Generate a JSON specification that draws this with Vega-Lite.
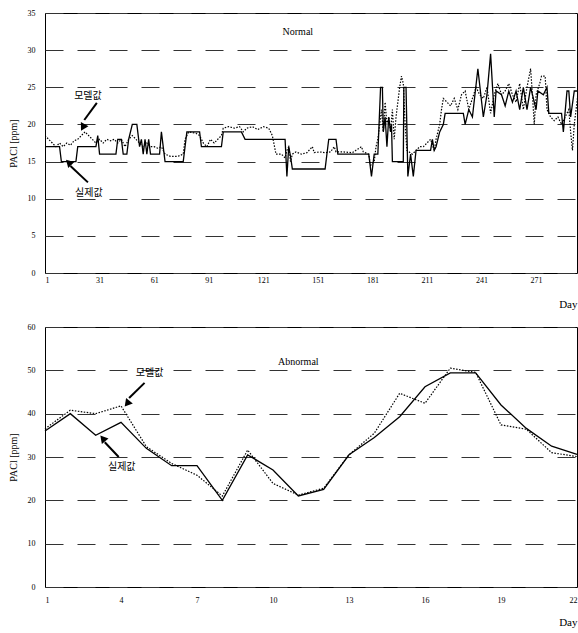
{
  "$schema": "https://vega.github.io/schema/vega-lite/v6.json",
  "background": "white",
  "padding": {"left": 7, "top": 8, "right": 0, "bottom": 0},
  "bounds": "flush",
  "spacing": 54,
  "config": {
    "font": "Liberation Serif",
    "view": {"stroke": "black", "strokeWidth": 1},
    "axis": {"labelFont": "Liberation Serif", "titleFont": "Liberation Serif", "labelColor": "black", "titleColor": "black", "labelFontSize": 8, "titleFontSize": 10, "titleFontWeight": "normal", "ticks": false, "tickSize": 0, "domain": false, "grid": false, "labelOverlap": false},
    "axisY": {"grid": true, "gridColor": "#333", "gridDash": [18, 14], "gridWidth": 1, "labelPadding": 10, "titlePadding": 9}
  },
  "datasets": {
    "normal": [
      {"s":"actual","day":1,"ppm":17},{"s":"actual","day":9,"ppm":17},{"s":"actual","day":10,"ppm":15},{"s":"actual","day":18,"ppm":15},{"s":"actual","day":19,"ppm":17},{"s":"actual","day":29,"ppm":17},{"s":"actual","day":30,"ppm":18.5},{"s":"actual","day":31,"ppm":16},{"s":"actual","day":40,"ppm":16},{"s":"actual","day":41,"ppm":18},{"s":"actual","day":43,"ppm":18},{"s":"actual","day":44,"ppm":16},{"s":"actual","day":46,"ppm":16},{"s":"actual","day":47,"ppm":18},{"s":"actual","day":49,"ppm":20},{"s":"actual","day":51.5,"ppm":20},{"s":"actual","day":53,"ppm":17},{"s":"actual","day":54,"ppm":18},{"s":"actual","day":55,"ppm":16},{"s":"actual","day":56,"ppm":18},{"s":"actual","day":57,"ppm":16},{"s":"actual","day":58,"ppm":18},{"s":"actual","day":59,"ppm":16},{"s":"actual","day":64,"ppm":16},{"s":"actual","day":65,"ppm":19},{"s":"actual","day":67,"ppm":15},{"s":"actual","day":77,"ppm":15},{"s":"actual","day":78,"ppm":17},{"s":"actual","day":79,"ppm":19},{"s":"actual","day":86,"ppm":19},{"s":"actual","day":87,"ppm":17},{"s":"actual","day":98,"ppm":17},{"s":"actual","day":99,"ppm":19},{"s":"actual","day":109,"ppm":19},{"s":"actual","day":111,"ppm":18},{"s":"actual","day":133,"ppm":18},{"s":"actual","day":134,"ppm":13},{"s":"actual","day":135,"ppm":17},{"s":"actual","day":136,"ppm":15.7},{"s":"actual","day":137,"ppm":14},{"s":"actual","day":155,"ppm":14},{"s":"actual","day":157,"ppm":18},{"s":"actual","day":161,"ppm":18},{"s":"actual","day":162,"ppm":16},{"s":"actual","day":179,"ppm":16},{"s":"actual","day":180.5,"ppm":13},{"s":"actual","day":182,"ppm":16},{"s":"actual","day":184,"ppm":16},{"s":"actual","day":185.5,"ppm":25},{"s":"actual","day":186.5,"ppm":25},{"s":"actual","day":187,"ppm":19},{"s":"actual","day":188,"ppm":21},{"s":"actual","day":189,"ppm":17},{"s":"actual","day":190,"ppm":21},{"s":"actual","day":191,"ppm":19},{"s":"actual","day":191.5,"ppm":20},{"s":"actual","day":192,"ppm":15},{"s":"actual","day":198,"ppm":15},{"s":"actual","day":198.3,"ppm":25},{"s":"actual","day":199.5,"ppm":25},{"s":"actual","day":200.5,"ppm":13},{"s":"actual","day":202,"ppm":16},{"s":"actual","day":203.5,"ppm":13},{"s":"actual","day":205,"ppm":16.5},{"s":"actual","day":213,"ppm":16.5},{"s":"actual","day":214,"ppm":18},{"s":"actual","day":215,"ppm":16.5},{"s":"actual","day":216,"ppm":17},{"s":"actual","day":218,"ppm":19},{"s":"actual","day":220,"ppm":20},{"s":"actual","day":221,"ppm":21.5},{"s":"actual","day":231,"ppm":21.5},{"s":"actual","day":232,"ppm":20},{"s":"actual","day":234,"ppm":22},{"s":"actual","day":236,"ppm":21},{"s":"actual","day":239,"ppm":27.5},{"s":"actual","day":242,"ppm":21},{"s":"actual","day":244,"ppm":24},{"s":"actual","day":246,"ppm":29.5},{"s":"actual","day":248,"ppm":21},{"s":"actual","day":249,"ppm":24.5},{"s":"actual","day":252,"ppm":24},{"s":"actual","day":254,"ppm":22.5},{"s":"actual","day":256,"ppm":24.5},{"s":"actual","day":258,"ppm":23},{"s":"actual","day":260,"ppm":24.5},{"s":"actual","day":262,"ppm":22},{"s":"actual","day":264,"ppm":25},{"s":"actual","day":266,"ppm":22},{"s":"actual","day":268,"ppm":25},{"s":"actual","day":269,"ppm":24},{"s":"actual","day":271,"ppm":22},{"s":"actual","day":272,"ppm":24.5},{"s":"actual","day":275,"ppm":24},{"s":"actual","day":277,"ppm":25},{"s":"actual","day":278,"ppm":21.5},{"s":"actual","day":285,"ppm":21.5},{"s":"actual","day":286,"ppm":19},{"s":"actual","day":288,"ppm":24.5},{"s":"actual","day":289,"ppm":24.5},{"s":"actual","day":290,"ppm":21},{"s":"actual","day":292,"ppm":24.5},{"s":"actual","day":295,"ppm":24.5},
      {"s":"model","day":1,"ppm":18.5},{"s":"model","day":3,"ppm":18},{"s":"model","day":5,"ppm":17.5},{"s":"model","day":7,"ppm":17},{"s":"model","day":9,"ppm":17.5},{"s":"model","day":11,"ppm":17},{"s":"model","day":13,"ppm":17.5},{"s":"model","day":15,"ppm":17.2},{"s":"model","day":17,"ppm":17.8},{"s":"model","day":19,"ppm":18},{"s":"model","day":21,"ppm":18.5},{"s":"model","day":23,"ppm":19},{"s":"model","day":25,"ppm":18.5},{"s":"model","day":27,"ppm":18},{"s":"model","day":29,"ppm":17.5},{"s":"model","day":31,"ppm":18},{"s":"model","day":33,"ppm":17.5},{"s":"model","day":35,"ppm":18},{"s":"model","day":37,"ppm":17.8},{"s":"model","day":39,"ppm":18},{"s":"model","day":41,"ppm":17.5},{"s":"model","day":43,"ppm":18},{"s":"model","day":45,"ppm":17},{"s":"model","day":47,"ppm":18},{"s":"model","day":49,"ppm":18.5},{"s":"model","day":51,"ppm":18},{"s":"model","day":53,"ppm":17.5},{"s":"model","day":55,"ppm":17},{"s":"model","day":57,"ppm":17.5},{"s":"model","day":59,"ppm":17},{"s":"model","day":61,"ppm":17},{"s":"model","day":63,"ppm":16.8},{"s":"model","day":65,"ppm":17},{"s":"model","day":67,"ppm":16},{"s":"model","day":70,"ppm":15.7},{"s":"model","day":74,"ppm":15.7},{"s":"model","day":77,"ppm":16},{"s":"model","day":78,"ppm":18},{"s":"model","day":80,"ppm":19},{"s":"model","day":84,"ppm":18.8},{"s":"model","day":86,"ppm":18.5},{"s":"model","day":88,"ppm":17.5},{"s":"model","day":90,"ppm":17},{"s":"model","day":92,"ppm":18},{"s":"model","day":94,"ppm":17.5},{"s":"model","day":96,"ppm":18},{"s":"model","day":98,"ppm":18.5},{"s":"model","day":99,"ppm":19.5},{"s":"model","day":102,"ppm":19.7},{"s":"model","day":105,"ppm":19.5},{"s":"model","day":108,"ppm":19.7},{"s":"model","day":110,"ppm":19},{"s":"model","day":112,"ppm":19.5},{"s":"model","day":115,"ppm":19.7},{"s":"model","day":118,"ppm":19.3},{"s":"model","day":121,"ppm":19.7},{"s":"model","day":124,"ppm":19.5},{"s":"model","day":126,"ppm":18.5},{"s":"model","day":128,"ppm":16},{"s":"model","day":131,"ppm":16},{"s":"model","day":133,"ppm":15.5},{"s":"model","day":134,"ppm":16.5},{"s":"model","day":135,"ppm":17},{"s":"model","day":136,"ppm":15},{"s":"model","day":137,"ppm":16},{"s":"model","day":139,"ppm":16.3},{"s":"model","day":142,"ppm":16},{"s":"model","day":145,"ppm":16.2},{"s":"model","day":148,"ppm":17},{"s":"model","day":149,"ppm":16.2},{"s":"model","day":152,"ppm":16.3},{"s":"model","day":155,"ppm":16.2},{"s":"model","day":158,"ppm":16.3},{"s":"model","day":160,"ppm":17},{"s":"model","day":161,"ppm":16.3},{"s":"model","day":165,"ppm":16.3},{"s":"model","day":170,"ppm":16.2},{"s":"model","day":175,"ppm":17},{"s":"model","day":176,"ppm":16.3},{"s":"model","day":179,"ppm":16},{"s":"model","day":180,"ppm":14.5},{"s":"model","day":182,"ppm":15},{"s":"model","day":183,"ppm":17},{"s":"model","day":184,"ppm":18},{"s":"model","day":185,"ppm":20},{"s":"model","day":186,"ppm":22},{"s":"model","day":187,"ppm":19},{"s":"model","day":188,"ppm":23},{"s":"model","day":189,"ppm":20},{"s":"model","day":190,"ppm":21},{"s":"model","day":191,"ppm":19},{"s":"model","day":192,"ppm":22},{"s":"model","day":193,"ppm":18},{"s":"model","day":194,"ppm":21},{"s":"model","day":195,"ppm":23},{"s":"model","day":196,"ppm":25},{"s":"model","day":197,"ppm":26.5},{"s":"model","day":198,"ppm":25.5},{"s":"model","day":199,"ppm":20},{"s":"model","day":200,"ppm":16.5},{"s":"model","day":203,"ppm":16},{"s":"model","day":205,"ppm":16.5},{"s":"model","day":207,"ppm":17},{"s":"model","day":209,"ppm":17},{"s":"model","day":211,"ppm":17.5},{"s":"model","day":213,"ppm":18},{"s":"model","day":215,"ppm":16.5},{"s":"model","day":216,"ppm":18},{"s":"model","day":218,"ppm":20},{"s":"model","day":219,"ppm":22},{"s":"model","day":220,"ppm":23.5},{"s":"model","day":222,"ppm":23},{"s":"model","day":224,"ppm":22.5},{"s":"model","day":226,"ppm":23.5},{"s":"model","day":228,"ppm":22},{"s":"model","day":230,"ppm":24},{"s":"model","day":232,"ppm":24.5},{"s":"model","day":234,"ppm":22},{"s":"model","day":236,"ppm":23.5},{"s":"model","day":238,"ppm":25},{"s":"model","day":240,"ppm":24},{"s":"model","day":242,"ppm":23.5},{"s":"model","day":244,"ppm":25},{"s":"model","day":246,"ppm":21.5},{"s":"model","day":248,"ppm":24},{"s":"model","day":250,"ppm":25.5},{"s":"model","day":252,"ppm":24},{"s":"model","day":254,"ppm":24.5},{"s":"model","day":256,"ppm":25.5},{"s":"model","day":258,"ppm":24},{"s":"model","day":260,"ppm":23},{"s":"model","day":262,"ppm":25.5},{"s":"model","day":264,"ppm":22},{"s":"model","day":266,"ppm":25},{"s":"model","day":268,"ppm":27.5},{"s":"model","day":269,"ppm":24},{"s":"model","day":270,"ppm":20},{"s":"model","day":271,"ppm":24},{"s":"model","day":273,"ppm":25.5},{"s":"model","day":274,"ppm":26.5},{"s":"model","day":276,"ppm":26.5},{"s":"model","day":277,"ppm":22},{"s":"model","day":279,"ppm":21},{"s":"model","day":281,"ppm":20.5},{"s":"model","day":283,"ppm":21},{"s":"model","day":285,"ppm":20},{"s":"model","day":287,"ppm":21},{"s":"model","day":289,"ppm":22},{"s":"model","day":290,"ppm":19},{"s":"model","day":291,"ppm":16.5},{"s":"model","day":292,"ppm":20},{"s":"model","day":294,"ppm":24}
    ],
    "abnormal": [
      {"day":1,"actual":36,"model":36.5},{"day":2,"actual":40,"model":40.8},{"day":3,"actual":35,"model":40},{"day":4,"actual":38,"model":41.8},{"day":5,"actual":32,"model":32.4},{"day":6,"actual":28,"model":28.5},{"day":7,"actual":28,"model":25.8},{"day":8,"actual":20,"model":21},{"day":9,"actual":30.5,"model":31.6},{"day":10,"actual":27,"model":23.9},{"day":11,"actual":21,"model":21.2},{"day":12,"actual":22.5,"model":22.8},{"day":13,"actual":30.5,"model":30.5},{"day":14,"actual":34.5,"model":35.5},{"day":15,"actual":39.3,"model":44.7},{"day":16,"actual":46.2,"model":42.4},{"day":17,"actual":49.4,"model":50.5},{"day":18,"actual":49.4,"model":49.5},{"day":19,"actual":42,"model":37.4},{"day":20,"actual":36.6,"model":36.4},{"day":21,"actual":32.5,"model":31},{"day":22,"actual":30.6,"model":30.1}
    ],
    "notes": [
      {"panel":"normal","label":"모델값","day":24.6,"ppm":23.8,"day1":29.5,"ppm1":22.9,"day2":22.6,"ppm2":20.6},
      {"panel":"normal","label":"실제값","day":25.1,"ppm":10.8,"day1":24.6,"ppm1":12.2,"day2":15.0,"ppm2":14.4},
      {"panel":"abnormal","label":"모델값","day":5.13,"ppm":49.4,"day1":4.93,"ppm1":47.1,"day2":4.32,"ppm2":43.6},
      {"panel":"abnormal","label":"실제값","day":4.03,"ppm":27.7,"day1":3.91,"ppm1":30,"day2":3.36,"ppm2":33.4}
    ]
  },
  "vconcat": [
    {
      "width": 532,
      "height": 260,
      "layer": [
        {
          "data": {"name": "normal"},
          "transform": [{"filter": "datum.s == 'actual'"}],
          "mark": {"type": "line", "color": "black", "strokeWidth": 1.3, "clip": true},
          "encoding": {
            "x": {"field": "day", "type": "quantitative", "scale": {"domain": [1, 293.5], "nice": false, "zero": false}, "axis": {"values": [1, 31, 61, 91, 121, 151, 181, 211, 241, 271], "title": "Day", "titleAnchor": "end", "titleFontSize": 11, "labelPadding": 3, "titlePadding": 14}},
            "y": {"field": "ppm", "type": "quantitative", "scale": {"domain": [0, 35], "nice": false}, "axis": {"values": [0, 5, 10, 15, 20, 25, 30, 35], "title": "PACl [ppm]"}}
          }
        },
        {
          "data": {"name": "normal"},
          "transform": [{"filter": "datum.s == 'model'"}],
          "mark": {"type": "line", "color": "black", "strokeWidth": 1.2, "strokeDash": [1.5, 1.5], "clip": true},
          "encoding": {
            "x": {"field": "day", "type": "quantitative", "axis": {"values": [1, 31, 61, 91, 121, 151, 181, 211, 241, 271], "title": "Day", "titleAnchor": "end", "titleFontSize": 11, "labelPadding": 3, "titlePadding": 14}},
            "y": {"field": "ppm", "type": "quantitative", "axis": {"values": [0, 5, 10, 15, 20, 25, 30, 35], "title": "PACl [ppm]"}}
          }
        },
        {
          "data": {"values": [{}]},
          "mark": {"type": "text", "fontSize": 10, "font": "Liberation Serif", "color": "black"},
          "encoding": {
            "x": {"datum": 140, "type": "quantitative", "axis": {"values": [1, 31, 61, 91, 121, 151, 181, 211, 241, 271], "title": "Day", "titleAnchor": "end", "titleFontSize": 11, "labelPadding": 3, "titlePadding": 14}},
            "y": {"datum": 32.4, "type": "quantitative", "axis": {"values": [0, 5, 10, 15, 20, 25, 30, 35], "title": "PACl [ppm]"}},
            "text": {"value": "Normal"}
          }
        },
        {
          "data": {"name": "notes"},
          "transform": [{"filter": "datum.panel == 'normal'"}],
          "mark": {"type": "text", "fontSize": 10, "font": "Noto Sans CJK KR", "color": "black"},
          "encoding": {
            "x": {"field": "day", "type": "quantitative", "axis": {"values": [1, 31, 61, 91, 121, 151, 181, 211, 241, 271], "title": "Day", "titleAnchor": "end", "titleFontSize": 11, "labelPadding": 3, "titlePadding": 14}},
            "y": {"field": "ppm", "type": "quantitative", "axis": {"values": [0, 5, 10, 15, 20, 25, 30, 35], "title": "PACl [ppm]"}},
            "text": {"field": "label"}
          }
        },
        {
          "data": {"name": "notes"},
          "transform": [{"filter": "datum.panel == 'normal'"}],
          "mark": {"type": "rule", "color": "black", "strokeWidth": 2},
          "encoding": {
            "x": {"field": "day1", "type": "quantitative", "axis": {"values": [1, 31, 61, 91, 121, 151, 181, 211, 241, 271], "title": "Day", "titleAnchor": "end", "titleFontSize": 11, "labelPadding": 3, "titlePadding": 14}},
            "y": {"field": "ppm1", "type": "quantitative", "axis": {"values": [0, 5, 10, 15, 20, 25, 30, 35], "title": "PACl [ppm]"}},
            "x2": {"field": "day2"}, "y2": {"field": "ppm2"}
          }
        },
        {
          "data": {"values": [{}]},
          "mark": {"type": "point", "shape": "triangle-up", "filled": true, "color": "black", "opacity": 1, "size": 75, "angle": 209},
          "encoding": {
            "x": {"datum": 21.8, "type": "quantitative", "axis": {"values": [1, 31, 61, 91, 121, 151, 181, 211, 241, 271], "title": "Day", "titleAnchor": "end", "titleFontSize": 11, "labelPadding": 3, "titlePadding": 14}},
            "y": {"datum": 19.6, "type": "quantitative", "axis": {"values": [0, 5, 10, 15, 20, 25, 30, 35], "title": "PACl [ppm]"}}
          }
        },
        {
          "data": {"values": [{}]},
          "mark": {"type": "point", "shape": "triangle-up", "filled": true, "color": "black", "opacity": 1, "size": 75, "angle": 315},
          "encoding": {
            "x": {"datum": 14.0, "type": "quantitative", "axis": {"values": [1, 31, 61, 91, 121, 151, 181, 211, 241, 271], "title": "Day", "titleAnchor": "end", "titleFontSize": 11, "labelPadding": 3, "titlePadding": 14}},
            "y": {"datum": 14.9, "type": "quantitative", "axis": {"values": [0, 5, 10, 15, 20, 25, 30, 35], "title": "PACl [ppm]"}}
          }
        }
      ]
    },
    {
      "width": 532,
      "height": 260,
      "layer": [
        {
          "data": {"name": "abnormal"},
          "mark": {"type": "line", "color": "black", "strokeWidth": 1.3},
          "encoding": {
            "x": {"field": "day", "type": "quantitative", "scale": {"domain": [1, 22], "nice": false, "zero": false}, "axis": {"values": [1, 4, 7, 10, 13, 16, 19, 22], "title": "Day", "titleAnchor": "end", "titleFontSize": 11, "labelPadding": 9, "titlePadding": 12, "labelFlush": true}},
            "y": {"field": "actual", "type": "quantitative", "scale": {"domain": [0, 60], "nice": false}, "axis": {"values": [0, 10, 20, 30, 40, 50, 60], "title": "PACl [ppm]"}}
          }
        },
        {
          "data": {"name": "abnormal"},
          "mark": {"type": "line", "color": "black", "strokeWidth": 1.2, "strokeDash": [1.5, 1.5]},
          "encoding": {
            "x": {"field": "day", "type": "quantitative", "axis": {"values": [1, 4, 7, 10, 13, 16, 19, 22], "title": "Day", "titleAnchor": "end", "titleFontSize": 11, "labelPadding": 9, "titlePadding": 12, "labelFlush": true}},
            "y": {"field": "model", "type": "quantitative", "axis": {"values": [0, 10, 20, 30, 40, 50, 60], "title": "PACl [ppm]"}}
          }
        },
        {
          "data": {"values": [{}]},
          "mark": {"type": "text", "fontSize": 10, "font": "Liberation Serif", "color": "black"},
          "encoding": {
            "x": {"datum": 11.0, "type": "quantitative", "axis": {"values": [1, 4, 7, 10, 13, 16, 19, 22], "title": "Day", "titleAnchor": "end", "titleFontSize": 11, "labelPadding": 9, "titlePadding": 12, "labelFlush": true}},
            "y": {"datum": 51.9, "type": "quantitative", "axis": {"values": [0, 10, 20, 30, 40, 50, 60], "title": "PACl [ppm]"}},
            "text": {"value": "Abnormal"}
          }
        },
        {
          "data": {"name": "notes"},
          "transform": [{"filter": "datum.panel == 'abnormal'"}],
          "mark": {"type": "text", "fontSize": 10, "font": "Noto Sans CJK KR", "color": "black"},
          "encoding": {
            "x": {"field": "day", "type": "quantitative", "axis": {"values": [1, 4, 7, 10, 13, 16, 19, 22], "title": "Day", "titleAnchor": "end", "titleFontSize": 11, "labelPadding": 9, "titlePadding": 12, "labelFlush": true}},
            "y": {"field": "ppm", "type": "quantitative", "axis": {"values": [0, 10, 20, 30, 40, 50, 60], "title": "PACl [ppm]"}},
            "text": {"field": "label"}
          }
        },
        {
          "data": {"name": "notes"},
          "transform": [{"filter": "datum.panel == 'abnormal'"}],
          "mark": {"type": "rule", "color": "black", "strokeWidth": 2},
          "encoding": {
            "x": {"field": "day1", "type": "quantitative", "axis": {"values": [1, 4, 7, 10, 13, 16, 19, 22], "title": "Day", "titleAnchor": "end", "titleFontSize": 11, "labelPadding": 9, "titlePadding": 12, "labelFlush": true}},
            "y": {"field": "ppm1", "type": "quantitative", "axis": {"values": [0, 10, 20, 30, 40, 50, 60], "title": "PACl [ppm]"}},
            "x2": {"field": "day2"}, "y2": {"field": "ppm2"}
          }
        },
        {
          "data": {"values": [{}]},
          "mark": {"type": "point", "shape": "triangle-up", "filled": true, "color": "black", "opacity": 1, "size": 75, "angle": 219},
          "encoding": {
            "x": {"datum": 4.24, "type": "quantitative", "axis": {"values": [1, 4, 7, 10, 13, 16, 19, 22], "title": "Day", "titleAnchor": "end", "titleFontSize": 11, "labelPadding": 9, "titlePadding": 12, "labelFlush": true}},
            "y": {"datum": 42.3, "type": "quantitative", "axis": {"values": [0, 10, 20, 30, 40, 50, 60], "title": "PACl [ppm]"}}
          }
        },
        {
          "data": {"values": [{}]},
          "mark": {"type": "point", "shape": "triangle-up", "filled": true, "color": "black", "opacity": 1, "size": 75, "angle": 320},
          "encoding": {
            "x": {"datum": 3.28, "type": "quantitative", "axis": {"values": [1, 4, 7, 10, 13, 16, 19, 22], "title": "Day", "titleAnchor": "end", "titleFontSize": 11, "labelPadding": 9, "titlePadding": 12, "labelFlush": true}},
            "y": {"datum": 34.3, "type": "quantitative", "axis": {"values": [0, 10, 20, 30, 40, 50, 60], "title": "PACl [ppm]"}}
          }
        }
      ]
    }
  ]
}
